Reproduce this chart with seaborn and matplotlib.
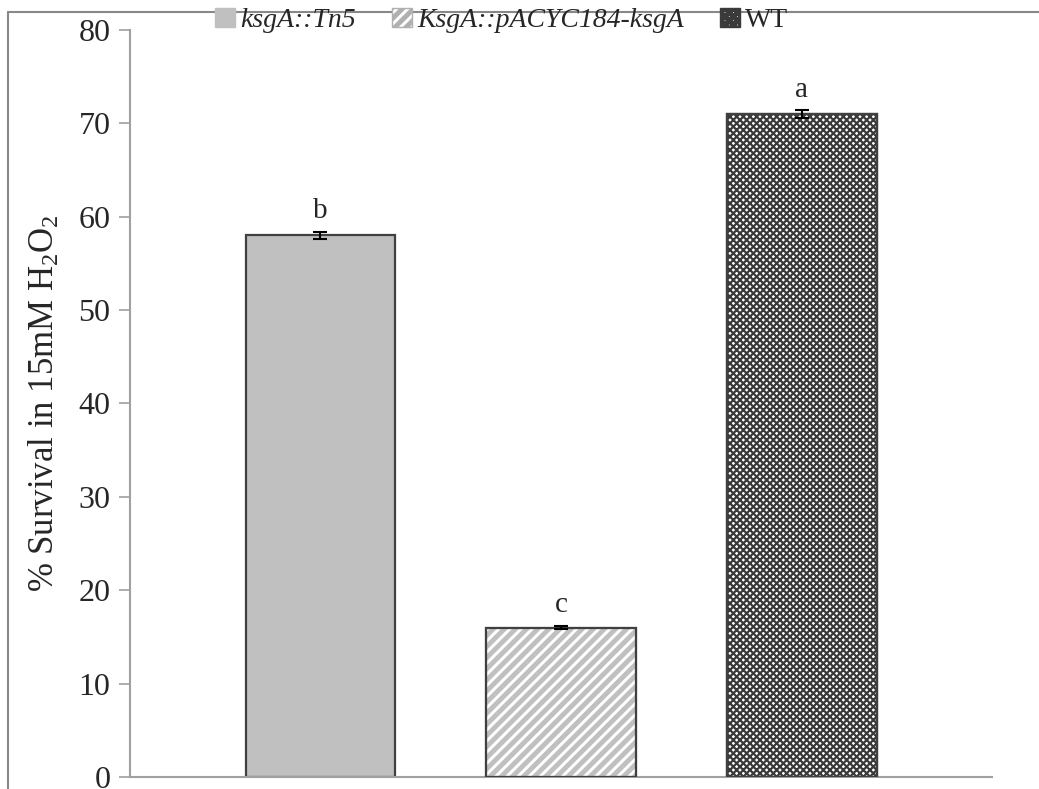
import pandas as pd
import matplotlib.pyplot as plt
import seaborn as sns
from matplotlib.lines import Line2D

# Data
strains = ['ksgA::Tn5', 'KsgA::pACYC184-ksgA', 'WT']
survival = [58.0, 16.0, 71.0]
errors = [0.4, 0.2, 0.4]
letters = ['b', 'c', 'a']

df = pd.DataFrame({'strain': strains, 'survival': survival})

sns.set_style('white')
plt.rcParams['font.family'] = ['Liberation Serif', 'DejaVu Serif']
plt.rcParams['mathtext.fontset'] = 'custom'
plt.rcParams['mathtext.rm'] = 'Liberation Serif'
plt.rcParams['mathtext.it'] = 'Liberation Serif:italic'
plt.rcParams['hatch.linewidth'] = 3.5

fig = plt.figure(figsize=(10.39, 7.89), dpi=100)
ax = fig.add_axes([0.125, 0.0152, 0.83, 0.947])

sns.barplot(data=df, x='strain', y='survival', hue='strain', order=strains,
            hue_order=strains, palette=['#c0c0c0', 'white', '#ffffff'],
            width=0.62, dodge=False, edgecolor='#404040', linewidth=1.6,
            errorbar=None, legend=False, ax=ax)

# patterns for bars 2 and 3
patches = ax.patches
patches[1].set_hatch('///')
patches[1].set_edgecolor('#c0c0c0')
patches[2].set_hatch('xxxxx')
patches[2].set_facecolor('#ffffff')
patches[2].set_edgecolor('#3a3a3a')
try:
    patches[1].set_hatch_linewidth(3.5)
    patches[2].set_hatch_linewidth(1.6)
except AttributeError:
    pass
# redraw outlines on top of hatched bars
for p in patches[1:]:
    x, w, h = p.get_x(), p.get_width(), p.get_height()
    ax.add_patch(plt.Rectangle((x, 0), w, h, fill=False,
                               edgecolor='#404040', linewidth=1.6, zorder=3))

ax.errorbar(range(len(strains)), survival, yerr=errors, fmt='none',
            ecolor='black', elinewidth=1.5, capsize=5, capthick=1.5, zorder=4)
for i, (v, e, t) in enumerate(zip(survival, errors, letters)):
    ax.text(i, v + e + 0.8, t, ha='center', va='bottom', fontsize=21)

ax.set_xlim(-0.79, 2.79)
ax.set_ylim(0, 80)
ax.set_yticks(range(0, 81, 10))
ax.set_xticks([])
ax.set_xlabel('')
ax.set_ylabel(r'% Survival in 15mM $\mathrm{H_2O_2}$', fontsize=25, labelpad=12)
ax.tick_params(axis='y', labelsize=23, length=8, width=1.2, color='#a0a0a0',
               direction='out', left=True, pad=6)
for s in ['top', 'right']:
    ax.spines[s].set_visible(False)
for s in ['left', 'bottom']:
    ax.spines[s].set_color('#a0a0a0')
    ax.spines[s].set_linewidth(1.5)

# legend
handles = [plt.Rectangle((0, 0), 1, 1, facecolor='#c0c0c0', edgecolor='#c0c0c0'),
           plt.Rectangle((0, 0), 1, 1, facecolor='white', edgecolor='#b0b0b0',
                         hatch='///'),
           plt.Rectangle((0, 0), 1, 1, facecolor='white', edgecolor='#3a3a3a',
                         hatch='xxxx')]
try:
    handles[1].set_hatch_linewidth(1.5)
    handles[2].set_hatch_linewidth(1.0)
except AttributeError:
    pass
leg = fig.legend(handles, strains, loc='center', bbox_to_anchor=(0.483, 0.974),
                 ncol=3, frameon=False, fontsize=20, handlelength=0.7,
                 handleheight=0.7, handletextpad=0.2, columnspacing=1.3)
for t in leg.get_texts()[:2]:
    t.set_fontstyle('italic')

# outer frame lines
fig.add_artist(Line2D([8 / 1039, 8 / 1039], [0, 1 - 12 / 789],
                      transform=fig.transFigure, color='#888888', lw=1.5))
fig.add_artist(Line2D([8 / 1039, 1], [1 - 12 / 789, 1 - 12 / 789],
                      transform=fig.transFigure, color='#888888', lw=1.5))

fig.savefig('out.png', dpi=100)
